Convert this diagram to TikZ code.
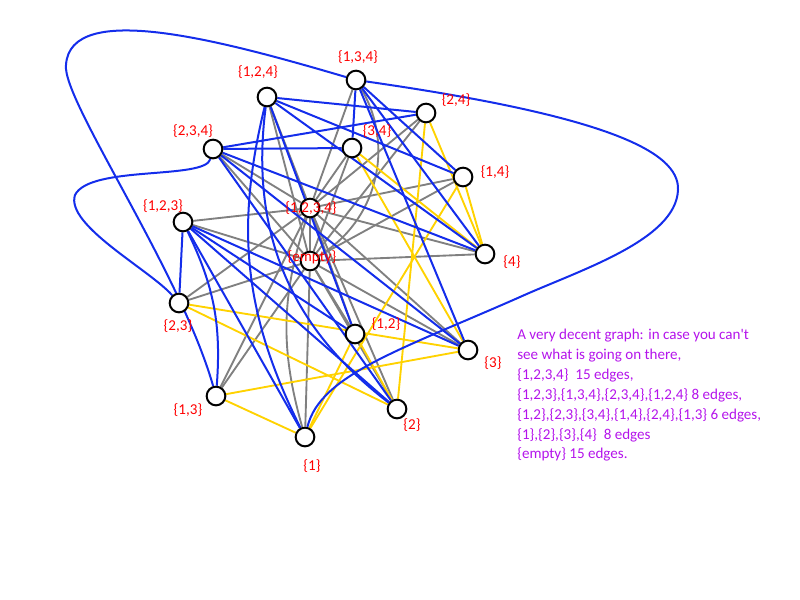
\documentclass[tikz,border=0pt]{standalone}
\usepackage{fontspec}
\setmainfont{Carlito}
\usetikzlibrary{backgrounds}

\definecolor{edgeblue}{RGB}{20,45,235}
\definecolor{edgegray}{RGB}{128,128,128}
\definecolor{edgegold}{RGB}{255,210,0}
\definecolor{notepurple}{RGB}{180,20,235}

\tikzset{
  vertex/.style={circle, draw=black, line width=1.5pt, fill=white, minimum size=14pt, inner sep=0pt},
  setlabel/.style={text=red, font=\fontsize{11.3}{13}\selectfont, inner sep=0pt},
  upedge/.style={edgeblue, line width=1.5pt},
  midedge/.style={edgegray, line width=1.4pt},
  lowedge/.style={edgegold, line width=1.4pt}
}

\begin{document}
\begin{tikzpicture}[x=0.75pt, y=-0.75pt]
    \useasboundingbox (0,0) rectangle (800,600);

    % Vertices: the sixteen subsets
    \node[vertex] (s1234) at (310,208) {};
    \node[vertex] (s0) at (310,261) {};
    \node[vertex] (s134) at (356,80) {};
    \node[vertex] (s124) at (267,97) {};
    \node[vertex] (s234) at (213,149) {};
    \node[vertex] (s123) at (183,222) {};
    \node[vertex] (s24) at (426,113) {};
    \node[vertex] (s34) at (352,148) {};
    \node[vertex] (s14) at (463,177) {};
    \node[vertex] (s23) at (179,303) {};
    \node[vertex] (s12) at (355,334) {};
    \node[vertex] (s13) at (216,396) {};
    \node[vertex] (s4) at (485,254) {};
    \node[vertex] (s3) at (468,350) {};
    \node[vertex] (s2) at (397,409) {};
    \node[vertex] (s1) at (305,437) {};

    % Labels
    \node[setlabel] (l1234) at (311,208) {\{1,2,3,4\}};
    \node[setlabel] (l0) at (312,257) {\{empty\}};
    \node[setlabel] (l134) at (358,57) {\{1,3,4\}};
    \node[setlabel] (l124) at (258,72) {\{1,2,4\}};
    \node[setlabel] (l234) at (193,131) {\{2,3,4\}};
    \node[setlabel] (l123) at (163,206) {\{1,2,3\}};
    \node[setlabel] (l24) at (456,100) {\{2,4\}};
    \node[setlabel] (l34) at (377,131) {\{3,4\}};
    \node[setlabel] (l14) at (495,172) {\{1,4\}};
    \node[setlabel] (l23) at (178,326) {\{2,3\}};
    \node[setlabel] (l12) at (386,324) {\{1,2\}};
    \node[setlabel] (l13) at (188,410) {\{1,3\}};
    \node[setlabel] (l4) at (512,262) {\{4\}};
    \node[setlabel] (l3) at (493,363) {\{3\}};
    \node[setlabel] (l2) at (412,425) {\{2\}};
    \node[setlabel] (l1) at (312,466) {\{1\}};

    % Note
    \node[anchor=north west, align=left, inner sep=0pt, text=notepurple,
          font=\fontsize{11.3}{14.9}\selectfont] (note) at (517,329)
        {A very decent graph: in case you can\textquotesingle t\\
         see what is going on there,\\
         \{1,2,3,4\}\ \ 15 edges,\\
         \{1,2,3\},\{1,3,4\},\{2,3,4\},\{1,2,4\} 8 edges,\\
         \{1,2\},\{2,3\},\{3,4\},\{1,4\},\{2,4\},\{1,3\} 6 edges,\\
         \{1\},\{2\},\{3\},\{4\}\ \ 8 edges\\
         \{empty\} 15 edges.};

    \begin{scope}[on background layer]
        % Gray: full set and empty set meet everything
        \draw[midedge] (s1234) -- (s0);
        \foreach \v in {s123,s124,s234,s12,s13,s14,s23,s24,s34,s2,s3,s4} {
            \draw[midedge] (s1234) -- (\v);
            \draw[midedge] (s0) -- (\v);
        }
        \draw[midedge] (s1234) -- (s134);
        \draw[midedge] (s134) to[bend left=45] (s0);
        \draw[midedge] (s0) -- (s1);
        \draw[midedge] (s1) to[bend left=17] (s1234);

        % Yellow: pairs down to singletons
        \foreach \a/\b in {s12/s1, s12/s2, s13/s1, s13/s3, s14/s1, s14/s4,
                           s23/s2, s23/s3, s24/s2, s24/s4, s34/s3, s34/s4} {
            \draw[lowedge] (\a) -- (\b);
        }

        % Blue: triples down to pairs and singletons
        \foreach \a/\b in {s123/s12, s123/s23, s123/s1, s123/s2, s123/s3,
                           s124/s12, s124/s14, s124/s24, s124/s4,
                           s134/s14, s134/s34, s134/s3, s134/s4,
                           s234/s24, s234/s34, s234/s2, s234/s3, s234/s4} {
            \draw[upedge] (\a) -- (\b);
        }
        \draw[upedge] (s123) to[bend left=15] (s13);
        \draw[upedge] (s124) to[bend right=20] (s1);
        \draw[upedge] (s124) to[bend right=30] (s2);
        % the long loops
        \draw[upedge] (s134) .. controls (220,40) and (70,0) .. (66,65)
            .. controls (62,100) and (180,270) .. (s13);
        \draw[upedge] (s134) .. controls (600,115) and (680,150) .. (678,190)
            .. controls (676,240) and (580,270) .. (520,297)
            .. controls (400,350) and (320,375) .. (s1);
        \draw[upedge] (s234) .. controls (205,180) and (90,165) .. (75,195)
            .. controls (65,225) and (150,270) .. (s23);
    \end{scope}
\end{tikzpicture}
\end{document}
